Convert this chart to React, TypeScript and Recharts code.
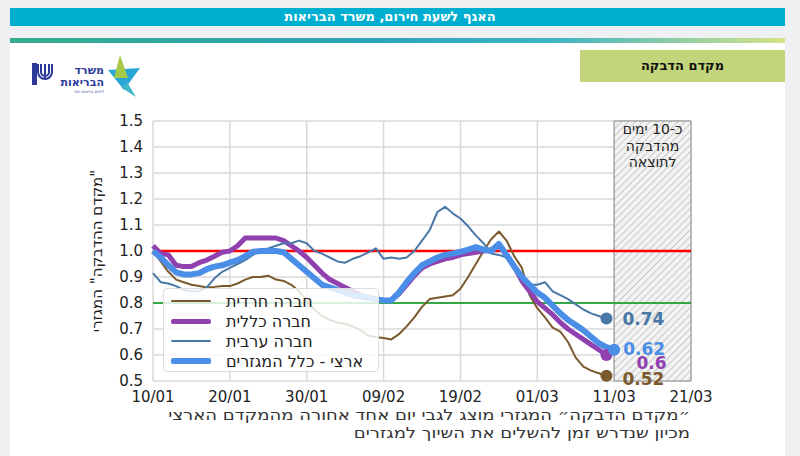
import React from 'react'
import {
  ComposedChart, Line, XAxis, YAxis, CartesianGrid, ReferenceLine, ReferenceArea, ReferenceDot,
} from 'recharts'

// day index 0 = 10/01
const dateTicks = [0, 10, 20, 30, 40, 50, 60, 70]
const dateLabels = ['10/01', '20/01', '30/01', '09/02', '19/02', '01/03', '11/03', '21/03']
const valueTicks = [0.5, 0.6, 0.7, 0.8, 0.9, 1.0, 1.1, 1.2, 1.3, 1.4, 1.5]

const haredi = [
  1.0, 0.96, 0.92, 0.89, 0.88, 0.87, 0.865, 0.86, 0.862, 0.865,
  0.865, 0.875, 0.89, 0.9, 0.9, 0.905, 0.89, 0.885, 0.87, 0.845,
  0.81, 0.775, 0.75, 0.735, 0.725, 0.72, 0.71, 0.695, 0.675, 0.668,
  0.665, 0.66, 0.68, 0.71, 0.745, 0.785, 0.815, 0.82, 0.825, 0.83,
  0.855, 0.9, 0.95, 1.0, 1.045, 1.075, 1.04, 0.98, 0.935, 0.83,
  0.78, 0.745, 0.705, 0.69, 0.65, 0.59, 0.555, 0.54, 0.53, 0.52,
]
const general = [
  1.02, 0.99, 0.985, 0.945, 0.94, 0.94, 0.955, 0.965, 0.98, 0.995,
  1.0, 1.02, 1.05, 1.05, 1.05, 1.05, 1.05, 1.04, 1.02, 1.0,
  0.975, 0.945, 0.915, 0.89, 0.875, 0.86, 0.845, 0.83, 0.82, 0.815,
  0.81, 0.81, 0.835, 0.87, 0.905, 0.935, 0.95, 0.96, 0.97, 0.975,
  0.985, 0.99, 0.995, 1.0, 1.005, 1.02, 0.985, 0.94, 0.885, 0.845,
  0.805, 0.78, 0.755, 0.725, 0.7, 0.68, 0.66, 0.64, 0.62, 0.6,
]
const arab = [
  0.915, 0.88, 0.875, 0.865, 0.85, 0.845, 0.845, 0.86, 0.895, 0.92,
  0.935, 0.95, 0.965, 0.985, 1.005, 1.01, 1.02, 1.03, 1.03, 1.04,
  1.03, 1.0, 0.99, 0.975, 0.96, 0.955, 0.97, 0.98, 0.995, 1.01,
  0.97, 0.975, 0.97, 0.975, 1.0, 1.04, 1.08, 1.15, 1.17, 1.145,
  1.125, 1.095, 1.06, 1.03, 0.99, 0.985, 0.975, 0.935, 0.895, 0.87,
  0.87, 0.88, 0.845, 0.83, 0.815, 0.795, 0.775, 0.76, 0.75, 0.74,
]
const national = [
  1.0, 0.975, 0.945, 0.918, 0.91, 0.91, 0.915, 0.93, 0.94, 0.945,
  0.955, 0.965, 0.98, 0.997, 1.0, 1.0, 1.0, 0.995, 0.97, 0.945,
  0.92, 0.895, 0.87, 0.86, 0.85, 0.84, 0.83, 0.825, 0.82, 0.815,
  0.81, 0.81, 0.84, 0.88, 0.915, 0.945, 0.96, 0.975, 0.985, 0.99,
  0.997, 1.005, 1.015, 1.005, 1.0, 1.027, 0.985, 0.94, 0.9, 0.87,
  0.84, 0.82, 0.79, 0.76, 0.735, 0.715, 0.695, 0.67, 0.645, 0.63,
  0.62,
]

const seriesNames = ['חברה חרדית', 'חברה כללית', 'חברה ערבית', 'ארצי - כלל המגזרים']

const data = national.map((v, i) => ({
  day: i,
  haredi: haredi[i],
  general: general[i],
  arab: arab[i],
  national: v,
}))

const series = [
  { key: 'haredi', name: seriesNames[0], color: '#7a5a2c', width: 2, values: haredi, dx: 16, dy: 3 },
  { key: 'general', name: seriesNames[1], color: '#9140b0', width: 5, values: general, dx: 30, dy: 8 },
  { key: 'arab', name: seriesNames[2], color: '#4a78a6', width: 2, values: arab, dx: 16, dy: 0 },
  { key: 'national', name: seriesNames[3], color: '#4a8ee8', width: 6, values: national, dx: 9, dy: -1 },
]

const font = '"DejaVu Sans", "Liberation Sans", sans-serif'
const RLM = '\u200F'

function LegendBox() {
  return (
    <div style={{
      position: 'absolute', left: 163, top: 288,
      width: 216, height: 84, boxSizing: 'border-box', background: 'rgba(255,255,255,0.82)',
      border: '1px solid #dddddd', borderRadius: 4, padding: '2px 0 0 7px', fontFamily: font,
    }}>
      {series.map(s => (
        <div key={s.key} style={{ display: 'flex', alignItems: 'center', height: 20 }}>
          <div style={{ width: 40, height: s.width, background: s.color, borderRadius: 2 }} />
          <div style={{ marginLeft: 15, fontSize: 16, color: '#222', direction: 'rtl' }}>{s.name}</div>
        </div>
      ))}
    </div>
  )
}

function Logo() {
  return (
    <svg width={120} height={45} style={{ position: 'absolute', left: 28, top: 52 }}>
      <rect x={4} y={11} width={5} height={22} fill="#2b3a9a" />
      <path d="M10 12 v8 a7 7 0 0 0 14 0 v-8 M13 12 v8 a4 4 0 0 0 8 0 v-8 M17 12 v14" stroke="#2b3a9a" strokeWidth={2} fill="none" />
      <text x={76} y={22} textAnchor="end" fontSize={11} fontWeight={700} fill="#2b3a9a" fontFamily={font}>משרד</text>
      <text x={76} y={34} textAnchor="end" fontSize={11} fontWeight={700} fill="#2b3a9a" fontFamily={font}>הבריאות</text>
      <text x={76} y={41} textAnchor="end" fontSize={4} fill="#2b3a9a" fontFamily={font}>לחיים בריאים יותר</text>
      <polygon points="80,18 112,16 96,38" fill="#2aa7d6" />
      <polygon points="92,3 100,26 86,26" fill="#a8c84a" />
      <polygon points="99,30 108,45 94,36" fill="#3fb8c8" />
    </svg>
  )
}

const hatchLabel = ['כ-10 ימים', 'מהדבקה', 'לתוצאה']

export default function App() {
  return (
    <div style={{ position: 'fixed', left: 0, top: 0, width: 800, height: 456, background: '#ffffff', overflow: 'hidden' }}>
      <div style={{ position: 'absolute', left: 0, top: 0, width: 800, height: 38, background: '#eef0f2' }} />
      <div style={{ position: 'absolute', left: 0, top: 0, width: 10, height: 456, background: '#eef0f2' }} />
      <div style={{ position: 'absolute', left: 785, top: 0, width: 15, height: 456, background: '#eef0f2' }} />
      <div style={{
        position: 'absolute', left: 10, top: 8, width: 775, height: 18, background: '#00aed0',
        color: '#fff', fontFamily: font, fontWeight: 700, fontSize: 13, lineHeight: '18px', direction: 'rtl',
      }}>
        <div style={{ position: 'absolute', left: 0, width: 760, textAlign: 'center' }}>האגף לשעת חירום, משרד הבריאות</div>
      </div>
      <div style={{
        position: 'absolute', left: 10, top: 38, width: 775, height: 5,
        background: 'linear-gradient(90deg, #37ab8c 0%, #2aa3b8 45%, #3fb3c6 70%, #d5e388 100%)',
      }} />
      <div style={{
        position: 'absolute', left: 580, top: 50, width: 205, height: 32, background: '#c2d57a',
        fontFamily: font, fontWeight: 700, fontSize: 13, lineHeight: '32px', textAlign: 'center', color: '#111', direction: 'rtl',
      }}>מקדם הדבקה</div>
      <Logo />

      <div style={{ position: 'absolute', left: 0, top: 0 }}>
        <ComposedChart width={800} height={456} data={data} margin={{ top: 121, right: 109, bottom: 45, left: 93 }}>
          <defs>
            <pattern id="hatch" width={5} height={5} patternUnits="userSpaceOnUse" patternTransform="rotate(45)">
              <rect width={5} height={5} fill="#f3f3f3" />
              <line x1={0} y1={0} x2={0} y2={5} stroke="#bdbdbd" strokeWidth={1.6} />
            </pattern>
          </defs>
          <CartesianGrid stroke="#d9d9d9" strokeWidth={1.5} vertical horizontal />
          <XAxis
            dataKey="day" type="number" domain={[0, 70]} ticks={dateTicks}
            tickFormatter={(v: number) => dateLabels[dateTicks.indexOf(v)]}
            axisLine={false} tickLine={false} height={30} interval={0}
            tick={{ fontSize: 15, fill: '#222', fontFamily: font }} tickMargin={4}
          />
          <YAxis
            type="number" domain={[0.5, 1.5]} ticks={valueTicks} interval={0}
            tickFormatter={(v: number) => v.toFixed(1)}
            axisLine={false} tickLine={false} width={60}
            tick={{ fontSize: 15, fill: '#222', fontFamily: font }} tickMargin={4}
            label={{ value: RLM + '"מקדם ההדבקה" המגזרי' + RLM, angle: -90, position: 'insideLeft', offset: 0, dx: 4, style: { fontSize: 15, fill: '#222', fontFamily: font, textAnchor: 'middle' } }}
          />
          <ReferenceArea
            x1={60} x2={70} y1={0.5} y2={1.5} fill="url(#hatch)" fillOpacity={1} stroke="#8a8a8a" strokeWidth={1}
            label={(p: any) => {
              const vb = p.viewBox
              return (
                <text x={vb.x + vb.width / 2} y={vb.y + 13} textAnchor="middle" fontSize={14} fill="#222" fontFamily={font}>
                  {hatchLabel.map((t, i) => (
                    <tspan key={i} x={vb.x + vb.width / 2} dy={i === 0 ? 0 : 16.5}>{t}</tspan>
                  ))}
                </text>
              )
            }}
          />
          <ReferenceLine y={1.0} stroke="#ff0000" strokeWidth={2.5} />
          <ReferenceLine y={0.8} stroke="#35a845" strokeWidth={2} />
          {series.map(s => (
            <Line
              key={s.key} type="linear" dataKey={s.key} name={s.name} stroke={s.color} strokeWidth={s.width}
              dot={false} activeDot={false} isAnimationActive={false} connectNulls strokeLinejoin="round"
            />
          ))}
          {series.map(s => (
            <ReferenceDot
              key={'end-' + s.key} x={s.values.length - 1} y={s.values[s.values.length - 1]} r={6}
              fill={s.color} stroke="none"
              label={(p: any) => {
                const vb = p.viewBox
                return (
                  <text x={vb.x + vb.width / 2 + s.dx} y={vb.y + vb.height / 2 + s.dy} dominantBaseline="central"
                    fontSize={17} fontWeight={700} fill={s.color} fontFamily={font}>
                    {String(s.values[s.values.length - 1])}
                  </text>
                )
              }}
            />
          ))}
        </ComposedChart>
      </div>
      <LegendBox />

      <div style={{
        position: 'absolute', left: 40, top: 406, width: 650, textAlign: 'right', direction: 'rtl',
        fontFamily: font, fontSize: 15, color: '#333', lineHeight: '18px',
        transform: 'scaleX(1.2)', transformOrigin: '650px 0',
      }}>
        <div>״מקדם הדבקה״ המגזרי מוצג לגבי יום אחד אחורה מהמקדם הארצי</div>
        <div>מכיון שנדרש זמן להשלים את השיוך למגזרים</div>
      </div>
    </div>
  )
}
